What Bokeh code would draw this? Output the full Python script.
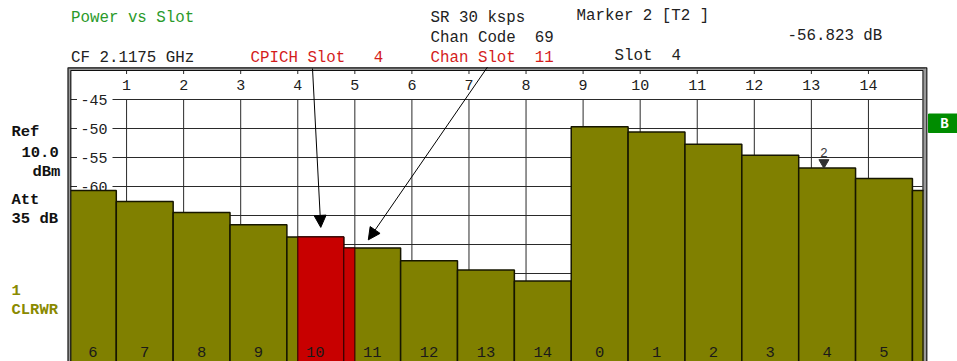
import numpy as np
from bokeh.plotting import figure
from bokeh.models import Range1d, Arrow, NormalHead
from bokeh.core.properties import value
from bokeh.embed import file_html
from bokeh.resources import INLINE

# ---------------- data ----------------
slot_numbers = list(range(15))
slot_power_dbm = [-49.7, -50.6, -52.7, -54.6, -56.8, -58.6, -60.7, -62.6,
                  -64.5, -66.6, -68.7, -70.6, -72.8, -74.4, -76.3]
display_order = [6, 7, 8, 9, 10, 11, 12, 13, 14, 0, 1, 2, 3, 4, 5, 6]
x_ticks = list(range(1, 15))
x_tick_labels = [str(t) for t in x_ticks]
y_grid = [-45, -50, -55, -60, -65, -70, -75, -80, -85, -90]
y_tick_values = [-45, -50, -55, -60]
y_tick_labels = ["-45", "-50", "-55", "-60"]
cpich_slot = 4
chan_slot = 11
marker_x = 13.22
marker_value = -56.823

# ---------------- layout helpers (page pixel -> data) ----------------
W, H = 957, 361
PX0, PXU = 69.0, 57.067     # page x of grid 0, px per slot unit
PY0, PYU = 99.0, 5.8        # page y of -45 dB, px per dB


def dx(px):
    return (px - PX0) / PXU


def dy(py):
    return -45.0 - (py - PY0) / PYU


slot_start = -0.1765
slot_width = 0.9965
X_MIN, X_MAX = 0.0, 15.0
BOTTOM = dy(420)
NB = "\u00a0"

FONT = value("Liberation Mono")

p = figure(width=W, height=H, output_backend="svg", toolbar_location=None,
           x_range=Range1d(dx(0), dx(W)), y_range=Range1d(dy(H), dy(0)),
           x_axis_location=None, y_axis_location=None,
           min_border=0, min_border_left=0, min_border_right=0,
           min_border_top=0, min_border_bottom=0, outline_line_color=None,
           background_fill_color="white", border_fill_color="white")
p.xgrid.visible = False
p.ygrid.visible = False

GRID = "#2a2a2a"

# horizontal grid lines + left ticks
p.segment(x0=[dx(112)] * len(y_grid), x1=[dx(922)] * len(y_grid), y0=y_grid, y1=y_grid,
          line_color=GRID, line_width=1)
p.segment(x0=[dx(70)] * len(y_grid), x1=[dx(76.5)] * len(y_grid), y0=y_grid, y1=y_grid,
          line_color=GRID, line_width=1)
# vertical grid lines + top ticks
p.segment(x0=x_ticks, x1=x_ticks, y0=[-45] * len(x_ticks), y1=[BOTTOM] * len(x_ticks),
          line_color=GRID, line_width=1)
p.segment(x0=x_ticks, x1=x_ticks, y0=[dy(70)] * len(x_ticks), y1=[dy(73.5)] * len(x_ticks),
          line_color=GRID, line_width=1)

# tick labels (inside frame)
p.text(x=x_ticks, y=[dy(84)] * len(x_ticks), text=x_tick_labels, text_font=FONT,
       text_font_size="15px", text_align="center", text_baseline="middle", text_color="#202020")
p.text(x=[dx(93.5)] * len(y_tick_values), y=y_tick_values, text=y_tick_labels, text_font=FONT,
       text_font_size="15px", text_align="center", text_baseline="middle", text_color="#202020")

# ---------------- bars (trace) ----------------
lefts, rights, tops, labels, centers = [], [], [], [], []
for i, s in enumerate(display_order):
    l = slot_start + i * slot_width
    r = l + slot_width
    lc, rc = max(l, X_MIN), min(r, X_MAX)
    lefts.append(lc)
    rights.append(rc)
    tops.append(slot_power_dbm[s])
    if rc - lc > 0.5:
        labels.append(str(s))
        centers.append((lc + rc) / 2)

p.quad(left=lefts, right=rights, top=tops, bottom=[BOTTOM] * len(tops),
       fill_color="#808000", line_color="#161600", line_width=1.5)

# red CPICH-slot highlight: the trace inside grid slot cpich_slot .. cpich_slot+1
rl, rr, rt = [], [], []
for l, r, t in zip(lefts, rights, tops):
    a, b = max(l, cpich_slot), min(r, cpich_slot + 1)
    if b > a:
        rl.append(a)
        rr.append(b)
        rt.append(t)
p.quad(left=rl, right=rr, top=rt, bottom=[BOTTOM] * len(rt),
       fill_color="#c80000", line_color="#3a0000", line_width=1.2)

# slot labels at the bottom of the bars
p.text(x=centers, y=[dy(351.5)] * len(centers), text=labels, text_font=FONT,
       text_font_size="15.5px", text_align="center", text_baseline="middle", text_color="#1a1a1a")

# ---------------- frame ----------------
fy_bot = dy(420)
p.line(x=[dx(68.8), dx(68.8), dx(924.3), dx(924.3)], y=[fy_bot, dy(68.6), dy(68.6), fy_bot],
       line_color="#9a9a9a", line_width=2.5)
p.line(x=[dx(67.5), dx(67.5), dx(926.3), dx(926.3)], y=[fy_bot, dy(67.3), dy(67.3), fy_bot],
       line_color="#101010", line_width=1.2)
p.line(x=[dx(70.3), dx(70.3), dx(922.5), dx(922.5)], y=[fy_bot, dy(70.0), dy(70.0), fy_bot],
       line_color="#101010", line_width=1.2)

# ---------------- arrows ----------------
cp_idx = display_order.index(10)
ch_idx = display_order.index(chan_slot)
tip1_x = (max(lefts[cp_idx], cpich_slot) + rights[cp_idx]) / 2
tip1_y = tops[cp_idx] + 1.65
tip2_x = lefts[ch_idx] + 0.43
tip2_y = tops[ch_idx] + 1.4
p.add_layout(Arrow(end=NormalHead(size=12, fill_color="black", line_color="black"),
                   x_start=dx(312), y_start=dy(68), x_end=tip1_x, y_end=tip1_y,
                   line_color="black", line_width=1))
p.add_layout(Arrow(end=NormalHead(size=12, fill_color="black", line_color="black"),
                   x_start=dx(487), y_start=dy(66.5), x_end=tip2_x, y_end=tip2_y,
                   line_color="black", line_width=1))

# ---------------- marker 2 ----------------
p.scatter(x=[marker_x], y=[marker_value + 0.95], marker="inverted_triangle", size=10,
          fill_color="#303030", line_color="#303030")
p.text(x=[marker_x], y=[marker_value + 2.75], text=["2"], text_font=FONT, text_font_size="13px",
       text_align="center", text_baseline="middle", text_color="#404040")

# ---------------- header texts ----------------
GREEN = "#2a9a2a"
RED = "#d41c1c"
DARK = "#222222"
header = [
    ("Power vs Slot", 70.5, 17, GREEN),
    ("SR 30 ksps", 430, 17, DARK),
    ("Marker 2 [T2 ]", 576, 15, DARK),
    ("Chan Code  69", 430, 37, DARK),
    ("-56.823 dB", 787, 35, DARK),
    ("CF 2.1175 GHz", 70.5, 57, DARK),
    ("CPICH Slot   4", 250, 57, RED),
    ("Chan Slot  11", 430, 57, RED),
    ("Slot  4", 614, 55, DARK),
]
for txt, xp, yp, col in header:
    p.text(x=[dx(xp)], y=[dy(yp)], text=[txt.replace(" ", NB)], text_font=FONT,
           text_font_size="15.8px", text_align="left", text_baseline="middle", text_color=col)

side = [
    ("Ref", 11, 131, "#111111"),
    ("10.0", 21, 151, "#111111"),
    ("dBm", 32, 171, "#111111"),
    ("Att", 11, 199, "#111111"),
    ("35 dB", 11, 218, "#111111"),
    ("1", 11, 289.5, "#8a8a00"),
    ("CLRWR", 11, 309.5, "#8a8a00"),
]
for txt, xp, yp, col in side:
    p.text(x=[dx(xp)], y=[dy(yp)], text=[txt.replace(" ", NB)], text_font=FONT,
           text_font_size="15.5px", text_font_style="bold", text_align="left",
           text_baseline="middle", text_color=col)

# "B" status box
p.quad(left=[dx(928)], right=[dx(960)], top=[dy(113.5)], bottom=[dy(132)],
       fill_color="#008c00", line_color="#008c00")
p.text(x=[dx(944)], y=[dy(123)], text=["B"], text_font=FONT, text_font_size="14px",
       text_font_style="bold", text_align="center", text_baseline="middle", text_color="white")

open("out.html", "w").write(file_html(p, INLINE))
